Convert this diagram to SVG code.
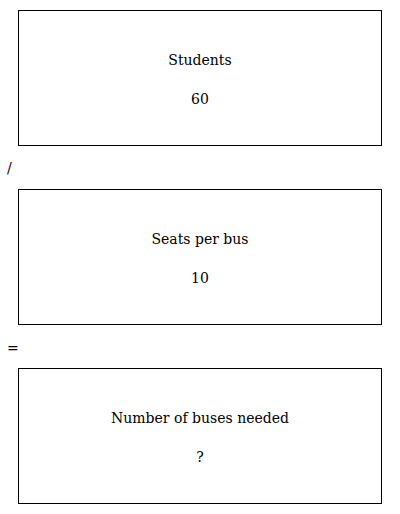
<svg xmlns="http://www.w3.org/2000/svg" width="400" height="514" viewBox="0 0 400 514">
<style>
.box{fill:#fff;stroke:#000;stroke-width:1}
text{font-family:"DejaVu Serif","Liberation Serif",serif;font-size:14px;fill:#000}
.c{text-anchor:middle}
</style>
<rect width="400" height="514" fill="#fff"/>
<g id="students">
<rect class="box" x="18.5" y="10.5" width="363" height="135"/>
<text class="c" x="200" y="65">Students</text>
<text class="c" x="200" y="104">60</text>
</g>
<g id="op-div"><text x="7" y="173">/</text></g>
<g id="seats">
<rect class="box" x="18.5" y="189.5" width="363" height="135"/>
<text class="c" x="200" y="244">Seats per bus</text>
<text class="c" x="200" y="283">10</text>
</g>
<g id="op-eq"><text x="7" y="353">=</text></g>
<g id="buses">
<rect class="box" x="18.5" y="368.5" width="363" height="135"/>
<text class="c" x="200" y="423">Number of buses needed</text>
<text class="c" x="200" y="462">?</text>
</g>
<g id="connectors"></g>
</svg>
